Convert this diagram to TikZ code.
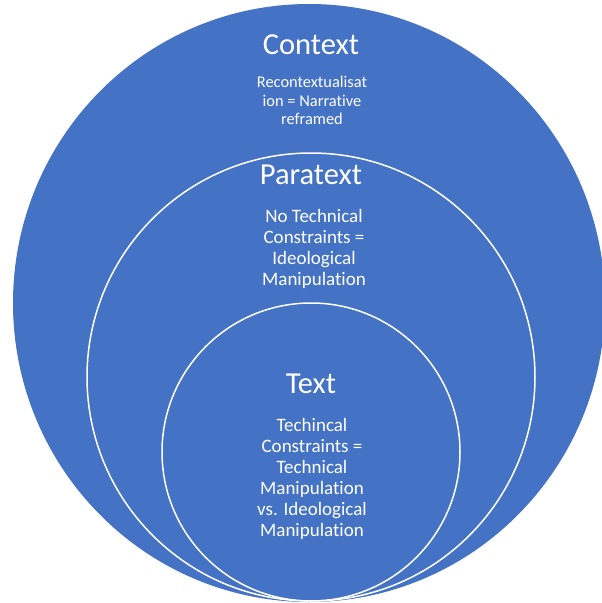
\documentclass[tikz,border=0pt]{standalone}
\usepackage{fontspec}
\setmainfont[Ligatures=NoCommon]{Carlito}
\definecolor{officeblue}{HTML}{4472C4}
\newcommand{\nolig}{\kern0pt}
\begin{document}
\begin{tikzpicture}[x=1pt,y=-1pt,
  ring/.style={draw=white,line width=1.5pt},
  title/.style={text=white,anchor=base,inner sep=0pt,font=\fontsize{30.5}{36}\selectfont},
  body/.style={text=white,anchor=base,inner sep=0pt,align=center,font=\fontsize{19}{21}\selectfont},
  smallbody/.style={text=white,anchor=base,inner sep=0pt,align=center,font=\fontsize{16.4}{18.5}\selectfont}]
\useasboundingbox (0,0) rectangle (602,603);
\clip (0,0) rectangle (602,603);
\fill[officeblue] (309,303) ellipse [x radius=296, y radius=299];
\draw[ring] (311,377) circle [radius=224];
\draw[ring] (311,452) circle [radius=149];
\node[title] (ctx) at (311,54) {Context};
\node[smallbody] (ctxb) at (312,124.5) {Recontextualisat\\ion = Narrative\\reframed};
\node[title] (para) at (311,184) {Paratext};
\node[body] (parab) at (314,285) {No Technical\\Constraints =\\Ideological\\Manipulat\nolig ion};
\node[title] (txt) at (311,393) {Text};
\node[body] (txtb) at (312,536) {Techincal\\Constraints =\\Technical\\Manipulat\nolig ion\\vs. Ideological\\Manipulat\nolig ion};
\end{tikzpicture}
\end{document}
